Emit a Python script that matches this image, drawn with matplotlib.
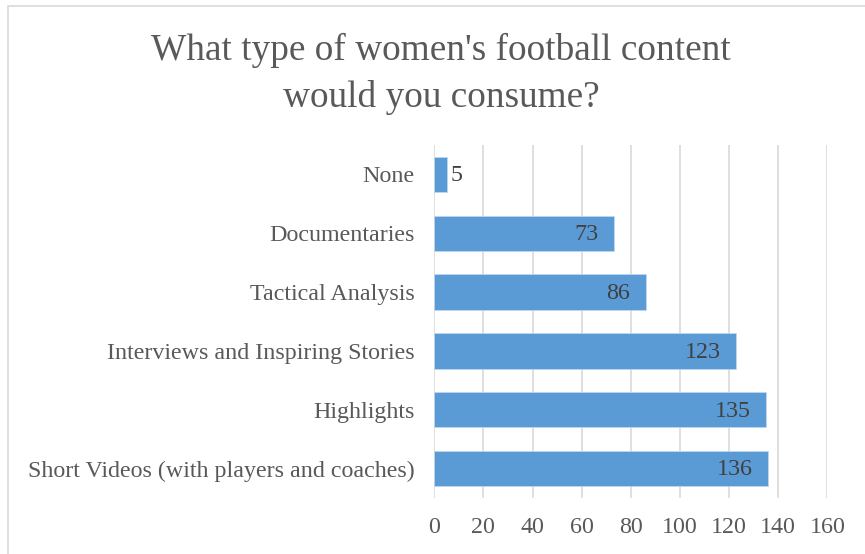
import matplotlib.pyplot as plt
from matplotlib.patches import Rectangle

categories = ["Short Videos (with players and coaches)", "Highlights",
              "Interviews and Inspiring Stories", "Tactical Analysis",
              "Documentaries", "None"]
counts = [136, 135, 123, 86, 73, 5]
x_ticks = [0, 20, 40, 60, 80, 100, 120, 140, 160]
title = "What type of women's football content\nwould you consume?"

W, H = 865, 554
fig = plt.figure(figsize=(W / 100, H / 100), dpi=100)
plt.rcParams['font.family'] = ['Liberation Serif', 'DejaVu Serif']

# chart-area frame
fig.patches.append(Rectangle((8 / W, -0.1), 1.0, 1.1 - 6 / H, transform=fig.transFigure,
                             fill=False, edgecolor='#D9D9D9', linewidth=1.2))

ax = fig.add_axes([434.3 / W, (H - 498) / H, (827.3 - 434.3) / W, (498 - 145) / H])
y = list(range(len(categories)))
bars = ax.barh(y, counts, height=0.6, color='#5B9BD5', edgecolor='#BDD7EE',
               linewidth=0.6, zorder=3)

ax.set_xlim(0, 160)
ax.set_ylim(-0.5, len(categories) - 0.5)
ax.set_xticks(x_ticks)
ax.set_xticklabels([str(t) for t in x_ticks])
ax.set_yticks(y)
ax.set_yticklabels(categories)
ax.tick_params(axis='both', length=0, labelsize=17.3, colors='#595959')
ax.tick_params(axis='x', pad=14)
ax.tick_params(axis='y', pad=14)
ax.grid(axis='x', color='#D9D9D9', linewidth=1.2, zorder=0)
for s in ax.spines.values():
    s.set_visible(False)

for b, v in zip(bars, counts):
    cy = b.get_y() + b.get_height() / 2
    if v < 20:
        ax.annotate(str(v), (v, cy), xytext=(3, -1), textcoords='offset points',
                    va='center', ha='left', fontsize=17.3, color='#404040')
    else:
        ax.annotate(str(v), (v, cy), xytext=(-11, -1), textcoords='offset points',
                    va='center', ha='right', fontsize=17.3, color='#404040')

fig.text(441 / W, 1 - 74 / H, title, ha='center', va='center', fontsize=26.8,
         color='#595959', linespacing=1.47)

fig.savefig('out.png', dpi=100)
